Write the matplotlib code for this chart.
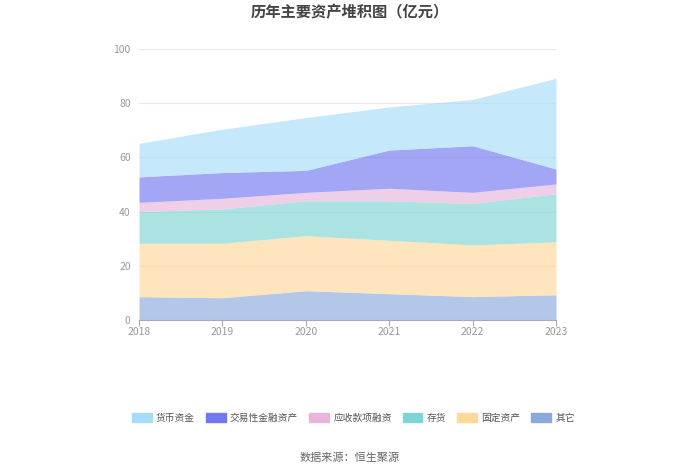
import matplotlib
matplotlib.use('Agg')
import matplotlib.pyplot as plt
import numpy as np

plt.rcParams['font.family'] = ['Noto Sans CJK SC', 'DejaVu Sans']

# Data (亿元)
years = ["2018", "2019", "2020", "2021", "2022", "2023"]
other = [8.6, 8.2, 10.8, 9.7, 8.6, 9.3]
fixed_assets = [19.7, 20.1, 20.3, 19.7, 19.1, 19.5]
inventory = [11.7, 12.7, 12.9, 14.6, 15.3, 17.8]
receivables_fin = [3.4, 3.9, 3.1, 4.6, 4.1, 3.6]
trading_assets = [9.4, 9.5, 8.1, 14.1, 17.2, 5.5]
cash = [12.4, 16.0, 19.5, 15.9, 17.1, 33.5]

# stacked bottom -> top
series = [
    ("其它", other, "#8aaade"),
    ("固定资产", fixed_assets, "#ffd89a"),
    ("存货", inventory, "#7ed5d5"),
    ("应收款项融资", receivables_fin, "#e7b5db"),
    ("交易性金融资产", trading_assets, "#7276ef"),
    ("货币资金", cash, "#a6dcf8"),
]
legend_order = ["货币资金", "交易性金融资产", "应收款项融资", "存货", "固定资产", "其它"]

fig = plt.figure(figsize=(7, 4.74), dpi=100)
ax = fig.add_axes([0.1986, 0.325, 0.5957, 0.5716])

x = np.arange(len(years))
bottom = np.zeros(len(years))
handles = {}
for name, vals, color in series:
    top = bottom + np.array(vals)
    ax.fill_between(x, bottom, top, color=color, alpha=0.65, linewidth=0)
    handles[name] = plt.Rectangle((0, 0), 1, 1, color=color)
    bottom = top

ax.set_xlim(0, len(years) - 1)
ax.set_ylim(0, 100)
ax.set_xticks(x)
ax.set_xticklabels(years)
ax.set_yticks([0, 20, 40, 60, 80, 100])
ax.tick_params(axis='y', length=0, labelsize=7.5, colors="#999999", pad=6)
ax.tick_params(axis='x', length=4, labelsize=7.5, colors="#999999", pad=1, color="#aaaaaa")
ax.grid(axis='y', color="#e8e8e8", linewidth=0.8)
ax.set_axisbelow(True)
for s in ["top", "right", "left"]:
    ax.spines[s].set_visible(False)
ax.spines["bottom"].set_color("#aaaaaa")

fig.text(0.5, 0.974, "历年主要资产堆积图（亿元）", ha='center', va='center',
         fontsize=11, fontweight='bold', color="#444444")

fig.legend([handles[n] for n in legend_order], legend_order,
           loc='center', bbox_to_anchor=(0.505, 0.118), ncol=6, frameon=False,
           fontsize=7, handlelength=2.0, handleheight=1.1, columnspacing=1.15,
           handletextpad=0.45, labelcolor="#555555")

fig.text(0.5, 0.035, "数据来源：恒生聚源", ha='center', va='center',
         fontsize=8, color="#666666")

fig.savefig("out.png", dpi=100)
